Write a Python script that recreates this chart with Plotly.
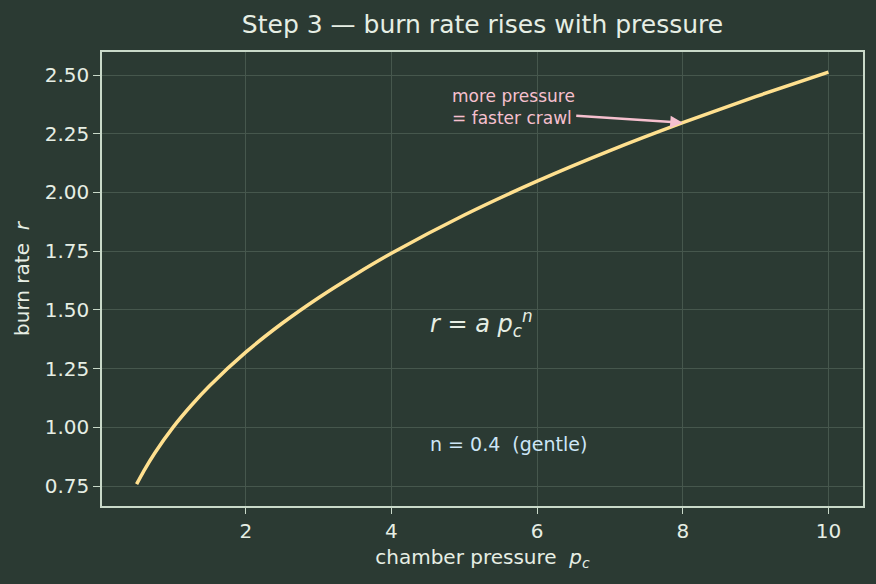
import plotly.graph_objects as go

# Data
pressure = [0.5, 0.6, 0.75, 1.0, 1.25, 1.5, 2.0, 2.5, 3.0, 3.5, 4.0, 5.0, 6.0, 7.0, 8.0, 9.0, 10.0]
burn_rate = [0.758, 0.815, 0.891, 1.000, 1.093, 1.176, 1.320, 1.443, 1.552, 1.650, 1.741, 1.904, 2.048, 2.178, 2.297, 2.408, 2.512]

x_ticks = [2, 4, 6, 8, 10]
y_ticks = [0.75, 1.00, 1.25, 1.50, 1.75, 2.00, 2.25, 2.50]
y_tick_labels = ["0.75", "1.00", "1.25", "1.50", "1.75", "2.00", "2.25", "2.50"]

BG = "#2b3a33"
GRID = "#46574d"
FG = "#e6eee4"
AXLINE = "#c9d9c9"
CURVE = "#ffe08f"
PINK = "#f6c0cf"
BLUE = "#cde6f7"
FONT = "DejaVu Sans"

fig = go.Figure()
fig.add_trace(go.Scatter(
    x=pressure, y=burn_rate, mode="lines",
    line=dict(color=CURVE, width=3.5, shape="spline", smoothing=0.6),
    hoverinfo="skip", showlegend=False,
))

fig.add_annotation(
    x=8.0, y=2.297, ax=4.8, ay=2.362, xref="x", yref="y", axref="x", ayref="y",
    text="more pressure<br>= faster crawl", showarrow=True,
    arrowhead=2, arrowsize=1.0, arrowwidth=2.5, arrowcolor=PINK,
    xanchor="left", yanchor="middle", align="left",
    font=dict(family=FONT, size=17, color=PINK), standoff=0,
)
fig.add_annotation(
    x=4.5, y=1.44, xref="x", yref="y", showarrow=False,
    text="<i>r</i> = <i>a p</i><sub><i>c</i></sub><sup><i>n</i></sup>",
    xanchor="left", yanchor="middle",
    font=dict(family=FONT, size=24, color=FG),
)
fig.add_annotation(
    x=4.5, y=0.93, xref="x", yref="y", showarrow=False,
    text="n = 0.4  (gentle)",
    xanchor="left", yanchor="middle",
    font=dict(family=FONT, size=19, color=BLUE),
)

fig.update_layout(
    width=876, height=584,
    paper_bgcolor=BG, plot_bgcolor=BG,
    margin=dict(l=102, r=13, t=52, b=78),
    font=dict(family=FONT, color=FG, size=20),
    title=dict(text="Step 3 — burn rate rises with pressure", xref="paper", x=0.5, xanchor="center",
               y=1 - 24 / 584, yanchor="middle", font=dict(size=25, color=FG)),
)
fig.update_xaxes(
    range=[0.025, 10.475], tickvals=x_ticks, ticktext=[str(t) for t in x_ticks],
    showgrid=True, gridcolor=GRID, gridwidth=1.2, zeroline=False,
    showline=True, linecolor=AXLINE, linewidth=1.5, mirror=True,
    ticks="outside", ticklen=6, tickcolor=AXLINE, tickfont=dict(size=20, color=FG),
    title=dict(text="chamber pressure  <i>p</i><sub><i>c</i></sub>", font=dict(size=20, color=FG), standoff=8),
)
fig.update_yaxes(
    range=[0.665, 2.598], tickvals=y_ticks, ticktext=y_tick_labels,
    showgrid=True, gridcolor=GRID, gridwidth=1.2, zeroline=False,
    showline=True, linecolor=AXLINE, linewidth=1.5, mirror=True,
    ticks="outside", ticklen=7, tickcolor=AXLINE, tickfont=dict(size=20, color=FG),
    title=dict(text="burn rate  <i>r</i>", font=dict(size=20, color=FG), standoff=10),
)

fig.write_html("out.html")
